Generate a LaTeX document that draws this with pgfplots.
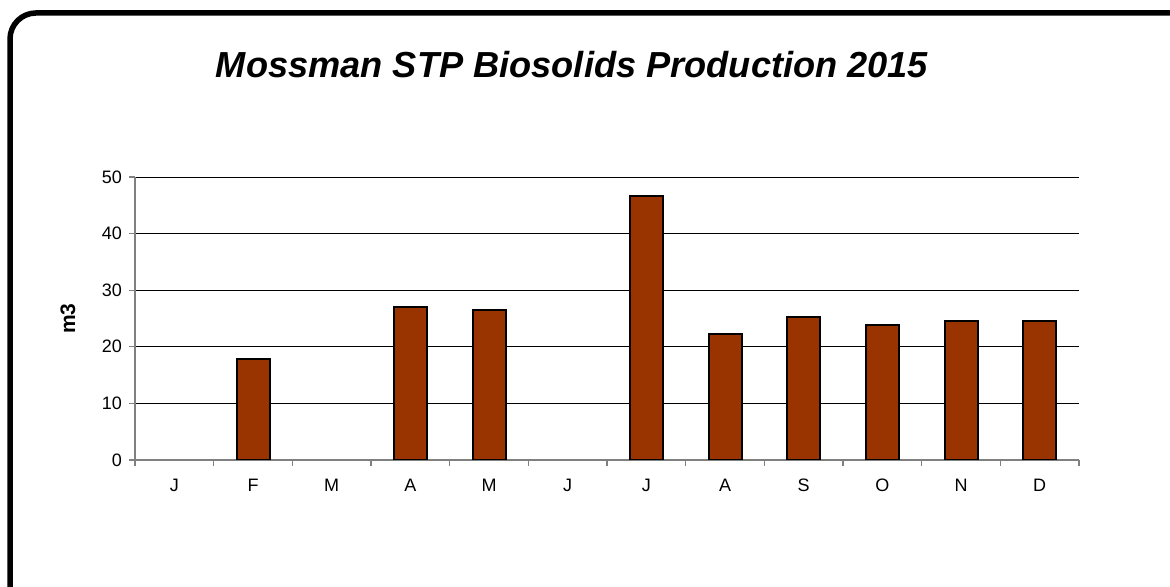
\documentclass[border=0pt]{standalone}
\usepackage{fontspec}
\setmainfont{Liberation Sans}
\usepackage{pgfplots}
\pgfplotsset{compat=1.18}
\definecolor{barc}{HTML}{993300}
\definecolor{axg}{HTML}{808080}
\begin{document}
\begin{tikzpicture}[x=1pt,y=1pt]
\path[use as bounding box] (0,0) rectangle (585,293.5);
\begin{scope}
\clip (0,0) rectangle (585,293.5);
\draw[line width=2.75pt, rounded corners=13pt] (5,-12) rectangle (598,287);
\end{scope}
\node[font=\fontsize{18.1}{22}\selectfont\bfseries\itshape, anchor=base] at (572pt*0.5,254.5) {Mossman STP Biosolids Production 2015};
\begin{axis}[at={(67.5pt,63.5pt)}, anchor=south west, scale only axis,
  width=472pt, height=141.5pt,
  xmin=0.5, xmax=12.5, ymin=0, ymax=50,
  axis x line*=bottom, axis y line*=left,
  axis line style={axg, line width=0.8pt},
  xtick={0.5,1.5,...,12.5}, x tick label as interval,
  xticklabels={J,F,M,A,M,J,J,A,S,O,N,D},
  ytick={0,10,...,50},
  tick align=outside, major tick length=3pt,
  x tick style={axg, line width=0.6pt},
  y tick style={axg, line width=0.6pt},
  ymajorgrids, grid style={black, line width=0.5pt},
  tick label style={font=\fontsize{9}{10}\selectfont},
  x tick label style={yshift=-3pt},
  /pgf/number format/assume math mode=true,
  ylabel={m3},
  ylabel style={font=\fontsize{10.5}{12}\selectfont\bfseries, at={(axis description cs:-0.071,0.5)}, anchor=center},
]
\addplot[ybar, bar width=16.5pt, fill=barc, draw=black, line width=1pt]
  coordinates {(2,17.8)(4,27.0)(5,26.5)(7,46.7)(8,22.3)(9,25.2)(10,23.8)(11,24.5)(12,24.6)};
\end{axis}
\end{tikzpicture}
\end{document}
